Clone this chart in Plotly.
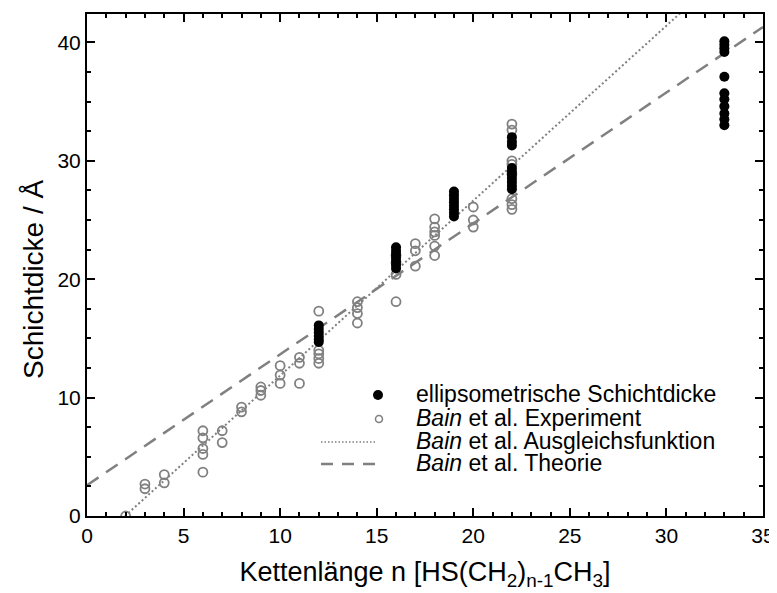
import plotly.graph_objects as go

# ellipsometrische Schichtdicke (filled black)
ell_x = [12, 12, 12, 12, 12, 12,
         16, 16, 16, 16, 16, 16, 16,
         19, 19, 19, 19, 19, 19, 19, 19,
         22, 22, 22, 22, 22, 22, 22, 22, 22, 22,
         33, 33, 33, 33, 33, 33, 33, 33, 33, 33, 33]
ell_y = [16.1, 15.8, 15.5, 15.2, 14.9, 14.7,
         22.7, 22.4, 22.1, 21.8, 21.5, 21.2, 20.9,
         27.4, 27.1, 26.8, 26.5, 26.2, 25.9, 25.6, 25.3,
         32.0, 31.6, 31.3, 29.4, 29.1, 28.8, 28.5, 28.2, 27.9, 27.6,
         40.1, 39.8, 39.5, 39.2, 37.1, 35.7, 35.2, 34.6, 34.0, 33.5, 33.0]

# Bain et al. Experiment (open grey)
bain_x = [2, 3, 3, 4, 4, 6, 6, 6, 6, 6, 7, 7, 8, 8, 9, 9, 9,
          10, 10, 10, 11, 11, 11, 12, 12, 12, 12, 12,
          14, 14, 14, 14, 16, 16, 16, 16, 17, 17, 17,
          18, 18, 18, 18, 18, 18, 20, 20, 20,
          22, 22, 22, 22, 22, 22, 22, 22]
bain_y = [0.0, 2.7, 2.3, 3.5, 2.8, 7.2, 6.6, 5.7, 5.2, 3.7, 7.2, 6.2, 9.2, 8.8, 10.9, 10.6, 10.2,
          12.7, 11.9, 11.2, 13.4, 12.9, 11.2, 17.3, 14.0, 13.7, 13.3, 12.9,
          18.1, 17.6, 17.1, 16.3, 22.0, 21.4, 20.4, 18.1, 23.0, 22.4, 21.1,
          25.1, 24.4, 24.0, 23.7, 22.8, 22.0, 26.1, 25.0, 24.4,
          33.1, 32.6, 30.0, 29.7, 28.9, 26.8, 26.3, 25.9]

# Ausgleichsfunktion (dotted) and Theorie (dashed), end points
fit_x = [1.97, 35]
fit_y = [0.0, 48.8]
theo_x = [0, 35]
theo_y = [2.6, 41.3]

legend_labels = ["ellipsometrische Schichtdicke",
                 "<i>Bain</i> et al. Experiment",
                 "<i>Bain</i> et al. Ausgleichsfunktion",
                 "<i>Bain</i> et al. Theorie"]

grey = "#808080"
FONT = "Liberation Sans, Arial"
OFF = 8  # page body margin
W, H = 769, 585
ML, MR, MT, MB = 79, 14, 6, 77
PW, PH = W - ML - MR, H - MT - MB


# screen pixel -> paper fraction (hand-made legend and y title)
def px(x):
    return (x - OFF - ML) / PW


def py(y):
    return (H + OFF - MB - y) / PH


fig = go.Figure()
fig.add_trace(go.Scatter(x=fit_x, y=fit_y, mode="lines", showlegend=False,
                         line=dict(color=grey, width=2, dash="2px,2.5px")))
fig.add_trace(go.Scatter(x=theo_x, y=theo_y, mode="lines", showlegend=False,
                         line=dict(color=grey, width=2.5, dash="14px,9px")))
fig.add_trace(go.Scatter(x=bain_x, y=bain_y, mode="markers", showlegend=False,
                         marker=dict(symbol="circle-open", size=9, color=grey, line=dict(width=1.8))))
fig.add_trace(go.Scatter(x=ell_x, y=ell_y, mode="markers", showlegend=False,
                         marker=dict(symbol="circle", size=10, color="black")))

# hand-made legend (tighter rows than plotly's own legend)
rows = [394, 418, 441, 463]
for lab, ry in zip(legend_labels, rows):
    fig.add_annotation(x=px(414), y=py(ry), xref="paper", yref="paper", text=lab,
                       showarrow=False, xanchor="left", yanchor="middle",
                       font=dict(family=FONT, size=23, color="black"))
fig.add_shape(type="circle", xref="paper", yref="paper",
              x0=px(373), x1=px(383), y0=py(rows[0] + 6), y1=py(rows[0] - 4),
              fillcolor="black", line=dict(color="black", width=0))
fig.add_shape(type="circle", xref="paper", yref="paper",
              x0=px(375.5), x1=px(382.5), y0=py(rows[1] + 4.5), y1=py(rows[1] - 2.5),
              fillcolor="rgba(0,0,0,0)", line=dict(color=grey, width=1.5))
fig.add_shape(type="line", xref="paper", yref="paper",
              x0=px(321), x1=px(377), y0=py(rows[2] + 1), y1=py(rows[2] + 1),
              line=dict(color=grey, width=1.5, dash="1.5px,2px"))
fig.add_shape(type="line", xref="paper", yref="paper",
              x0=px(321), x1=px(377), y0=py(rows[3] + 1), y1=py(rows[3] + 1),
              line=dict(color=grey, width=2.5, dash="12px,9px"))

# y title sits a little below the axis centre in the original
fig.add_annotation(x=px(33), y=py(279), xref="paper", yref="paper", text="Schichtdicke / Å",
                   textangle=-90, showarrow=False, xanchor="center", yanchor="middle",
                   font=dict(family=FONT, size=28, color="black"))

axis_common = dict(showline=True, linecolor="black", linewidth=2, mirror="allticks",
                   ticks="inside", ticklen=8, tickwidth=2, tickcolor="black",
                   showgrid=False, zeroline=False, automargin=False,
                   tickfont=dict(family=FONT, size=21, color="black"))

fig.update_xaxes(range=[0, 35], dtick=5, tick0=0,
                 minor=dict(dtick=1, ticks="inside", ticklen=4, tickwidth=1.5, tickcolor="black"),
                 title=dict(text="Kettenlänge n [HS(CH<sub>2</sub>)<sub>n-1</sub>CH<sub>3</sub>]",
                            font=dict(family=FONT, size=27, color="black"), standoff=16),
                 **axis_common)
fig.update_yaxes(range=[0, 42.4], dtick=10, tick0=0,
                 minor=dict(dtick=2.5, ticks="inside", ticklen=4, tickwidth=1.5, tickcolor="black"),
                 **axis_common)

fig.update_layout(
    width=W, height=H,
    margin=dict(l=ML, r=MR, t=MT, b=MB),
    plot_bgcolor="white", paper_bgcolor="white",
    font=dict(family=FONT, color="black"),
    showlegend=False,
)

fig.write_html("out.html")
